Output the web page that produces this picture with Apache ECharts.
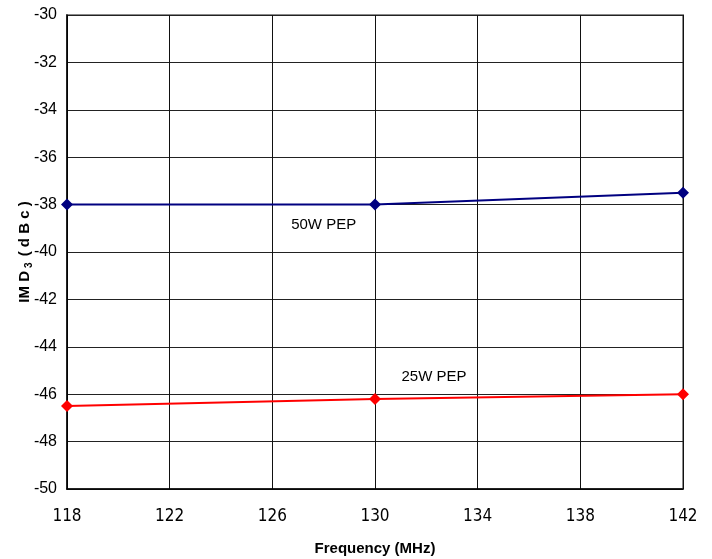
<!DOCTYPE html>
<html><head><meta charset="utf-8">
<script src="https://cdn.jsdelivr.net/npm/echarts@6/dist/echarts.min.js"></script>
<style>html,body{margin:0;padding:0;background:#fff}#c{width:712px;height:559px}</style>
</head><body><div id="c"></div>
<script>
const freqs = [118, 130, 142];
const imd50W = [-38, -38, -37.5];
const imd25W = [-46.5, -46.2, -46];
const xTicks = [118, 122, 126, 130, 134, 138, 142];
const yTicks = [-50, -48, -46, -44, -42, -40, -38, -36, -34, -32, -30];
const seriesLabels = ['50W PEP', '25W PEP'];
const labelPos = [[128.0, -38.85], [132.3, -45.27]];

const chart = echarts.init(document.getElementById('c'));
chart.setOption({
  animation: false,
  grid: {left: 67, right: 29, top: 15, bottom: 70, show: true, borderColor: '#8a8a8a', borderWidth: 2,
         containLabel: false, outerBoundsMode: 'none'},
  xAxis: {
    type: 'value', min: xTicks[0], max: xTicks[xTicks.length-1], interval: 4,
    name: 'Frequency (MHz)', nameLocation: 'middle', nameGap: 52,
    nameTextStyle: {fontFamily: 'Liberation Sans', fontWeight: 'bold', fontSize: 15, color: '#000', letterSpacing: -0.4},
    axisLine: {lineStyle: {color: '#000', width: 1.5}},
    axisTick: {show: false},
    axisLabel: {fontFamily: 'DejaVu Sans Condensed, DejaVu Sans', fontSize: 17, color: '#000', margin: 19, letterSpacing: -0.8},
    splitLine: {show: true, lineStyle: {color: '#111', width: 1}}
  },
  yAxis: {
    type: 'value', min: yTicks[0], max: yTicks[yTicks.length-1], interval: 2,
    name: '{a|IM D}{s|3}{a| ( d B c )}', nameLocation: 'middle', nameGap: 33, nameRotate: 90,
    nameMoveOverlap: false,
    nameTextStyle: {
      rich: {
        a: {fontFamily: 'Liberation Sans', fontWeight: 'bold', fontSize: 15, color: '#000', lineHeight: 18},
        s: {fontFamily: 'Liberation Sans', fontWeight: 'bold', fontSize: 10, color: '#000', lineHeight: 18, verticalAlign: 'bottom', padding: [6, 2, 0, 3]}
      }
    },
    axisLine: {show: true, lineStyle: {color: '#000', width: 1.5}},
    axisTick: {show: false},
    axisLabel: {fontFamily: 'Liberation Sans', fontSize: 16, color: '#000', margin: 10, letterSpacing: -0.5},
    splitLine: {show: true, lineStyle: {color: '#222', width: 1}}
  },
  series: [
    {
      name: seriesLabels[0], type: 'line',
      data: freqs.map((f, i) => [f, imd50W[i]]),
      symbol: 'diamond', symbolSize: 12,
      lineStyle: {color: '#000080', width: 2},
      itemStyle: {color: '#000080'}
    },
    {
      name: seriesLabels[1], type: 'line',
      data: freqs.map((f, i) => [f, imd25W[i]]),
      symbol: 'diamond', symbolSize: 12,
      lineStyle: {color: '#ff0000', width: 2},
      itemStyle: {color: '#ff0000'}
    },
    {
      type: 'scatter', symbolSize: 0, itemStyle: {color: '#000', opacity: 1},
      silent: true,
      data: labelPos.map((p, i) => ({value: p, name: seriesLabels[i]})),
      label: {show: true, position: 'inside', formatter: '{b}', color: '#000', opacity: 1, fontFamily: 'Liberation Sans', fontSize: 15, letterSpacing: -1.2}
    }
  ]
});
</script>
</body></html>
